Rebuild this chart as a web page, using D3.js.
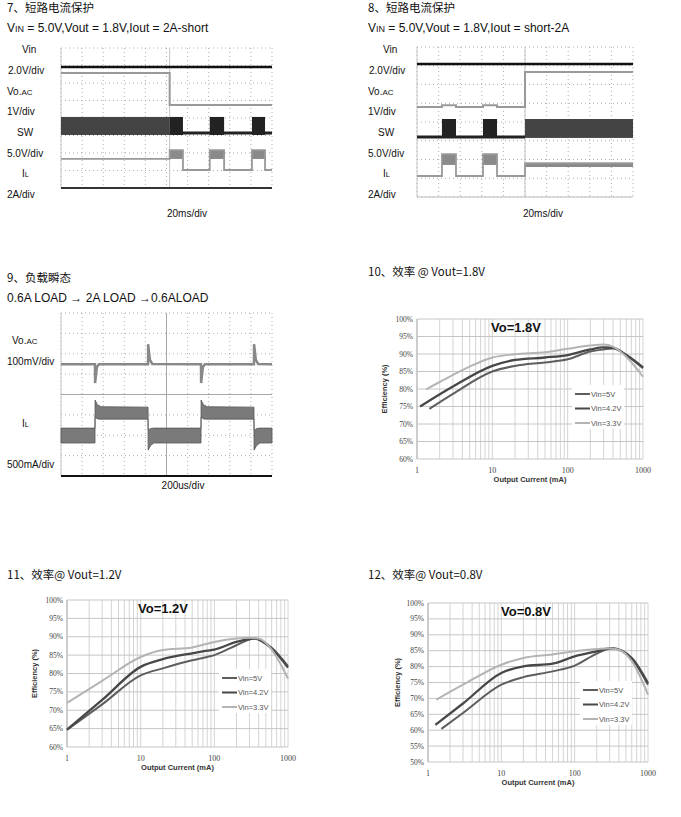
<!DOCTYPE html>
<meta charset="utf-8">
<style>
body { margin: 0; background: #fff; }
text { font-family: "Liberation Sans", Arial, "Noto Sans CJK SC", sans-serif; fill: #111; }
</style>
<body>
<script src="https://cdn.jsdelivr.net/npm/d3@7"></script>

<script>

var width = 681, height = 817;

// ---- scope 7 : Iout 2A -> short, 20ms/div (levels in divisions from bottom)
var s7Vin = [[0, 6.91], [200, 6.91]];
var s7Vo  = [[0, 6.57], [103, 6.57], [103, 4.74], [200, 4.74]];
var s7SwOn = [[0, 103, 3.03, 4.06]];
var s7Sw  = [[103, 115.6, 3.03, 4.06], [141, 154.6, 3.03, 4.06], [181, 193.4, 3.03, 4.06]];
var s7SwBase = [[103, 3.14], [200, 3.14]];
var s7IL  = [[0, 1.66], [103, 1.66], [103, 2.17], [115.6, 2.17], [115.6, 1.03], [141, 1.03], [141, 2.17],
             [154.6, 2.17], [154.6, 1.03], [181, 1.03], [181, 2.17], [193.4, 2.17], [193.4, 1.03], [200, 1.03]];
var s7ILPulse = [[103, 115.6, 1.66, 2.17], [141, 154.6, 1.66, 2.17], [181, 193.4, 1.66, 2.17]];

// ---- scope 8 : Iout short -> 2A
var s8Vin = [[0, 7.09], [200, 7.09]];
var s8Vo  = [[0, 4.8], [23.1, 4.8], [23.1, 4.9], [36.1, 4.9], [36.1, 4.8], [61.1, 4.8], [61.1, 4.9],
             [74.1, 4.9], [74.1, 4.8], [100, 4.8], [100, 6.67], [200, 6.67]];
var s8Sw  = [[23.1, 36.1, 3.15, 4.16], [61.1, 74.1, 3.15, 4.16]];
var s8SwOn = [[100, 200, 3.15, 4.16]];
var s8SwBase = [[0, 3.2], [100, 3.2]];
var s8IL  = [[0, 1.12], [23.1, 1.12], [23.1, 2.29], [36.1, 2.29], [36.1, 1.12], [61.1, 1.12], [61.1, 2.29],
             [74.1, 2.29], [74.1, 1.12], [100, 1.12], [100, 1.81], [200, 1.81]];
var s8ILPulse = [[23.1, 36.1, 1.71, 2.29], [61.1, 74.1, 1.71, 2.29], [100, 200, 1.6, 1.81]];

// ---- scope 9 : load transient, 200us/div
var s9Vo = [[0, 5.49], [322, 5.49], [323, 4.56], [340, 5.35], [360, 5.49], [825, 5.49], [826, 6.47], [843, 5.7], [865, 5.5],
            [1327, 5.49], [1328, 4.56], [1345, 5.35], [1365, 5.49], [1829, 5.49], [1830, 6.47], [1847, 5.7], [1869, 5.5], [2000, 5.49]];
var s9IL = [[0, 1.62, 2.35], [322, 1.62, 2.35], [323, 2.9, 3.73], [345, 2.8, 3.5], [380, 2.79, 3.4], [825, 2.79, 3.38],
            [826, 1.27, 2.25], [850, 1.5, 2.33], [880, 1.62, 2.35], [1327, 1.62, 2.35], [1328, 2.9, 3.73], [1350, 2.8, 3.5],
            [1385, 2.79, 3.4], [1829, 2.79, 3.38], [1830, 1.27, 2.25], [1855, 1.5, 2.33], [1885, 1.62, 2.35], [2000, 1.62, 2.35]];

// ---- efficiency curves [Iout mA, efficiency %]
var vinNames = ["Vin=5V", "Vin=4.2V", "Vin=3.3V"];
var e18_5  = [[1.46, 74.3], [3, 78.6], [10, 85], [20, 86.6], [50, 87.6], [100, 88.5], [200, 90.7], [300, 91.3], [400, 91.6], [600, 89.7], [1000, 85.9]];
var e18_42 = [[1.1, 75], [3, 80.7], [10, 86.6], [20, 88.3], [50, 89], [100, 89.7], [200, 91.3], [300, 91.9], [400, 91.8], [600, 89.7], [1000, 86.2]];
var e18_33 = [[1.32, 79.9], [2, 82], [5, 86.4], [10, 89], [20, 89.9], [50, 90.5], [100, 91.5], [200, 92.4], [300, 92.7], [400, 92.1], [600, 89.2], [1000, 83.5]];

var e12_5  = [[1, 64.7], [3, 71.6], [10, 79.5], [20, 81.4], [50, 83.6], [80, 84.5], [100, 85], [200, 87.7], [350, 89.5], [600, 87], [1000, 82]];
var e12_42 = [[1, 64.7], [3, 72.8], [10, 81.8], [20, 83.9], [50, 85.5], [80, 86.2], [100, 86.5], [200, 88.6], [350, 89.5], [600, 86.8], [1000, 81.6]];
var e12_33 = [[1, 72], [3, 78], [10, 84.5], [20, 86.4], [50, 87.1], [100, 88.6], [200, 89.5], [300, 89.7], [400, 89.5], [600, 86.5], [1000, 78.6]];

var e08_5  = [[1.52, 60.4], [3, 65.4], [10, 74.3], [20, 76.7], [50, 78.5], [100, 80.3], [200, 84.1], [320, 85.8], [600, 82.4], [1000, 74.3]];
var e08_42 = [[1.26, 61.7], [3, 68.4], [10, 78], [20, 80.1], [50, 80.9], [100, 83.2], [200, 84.8], [320, 85.8], [600, 82.7], [1000, 74.8]];
var e08_33 = [[1.3, 69.6], [3, 74.3], [10, 80.6], [20, 82.7], [50, 83.8], [100, 84.8], [200, 85.5], [300, 85.8], [400, 85.3], [600, 81.7], [1000, 71.2]];

var xTickLabels = [1, 10, 100, 1000];
var vinColors = ["#5e5e5e", "#474747", "#b4b4b4"];

var svg = d3.select("body").append("svg")
            .attr("width", width)
            .attr("height", height);

// simple text helper, parts = [[str, size], ...]
function label(x, y, parts, size, anchor, extra) {
  var t = svg.append("text")
     .attr("x", x).attr("y", y)
     .attr("font-size", size)
     .attr("text-anchor", anchor || "start");
  if (extra) extra(t);
  parts.forEach(function(p){
    t.append("tspan").attr("font-size", p[1] || size).text(p[0]);
  });
  return t;
}

//*************** scope panel
function scope(o) {
  var g = svg.append("g");
  var x = d3.scaleLinear().domain([0, o.tMax]).range([o.x0, o.x1]);
  var y = d3.scaleLinear().domain([0, 8]).range([o.y1, o.y0]);

  g.selectAll("line.vg").data(d3.range(0, 11)).enter().append("line")
   .attr("x1", function(d){return x(d * o.tMax / 10);})
   .attr("x2", function(d){return x(d * o.tMax / 10);})
   .attr("y1", o.y0).attr("y2", o.y1)
   .attr("stroke", "#9a9a9a").attr("stroke-width", 0.8)
   .attr("stroke-dasharray", "1,3");
  g.selectAll("line.hg").data(d3.range(0, 9)).enter().append("line")
   .attr("y1", function(d){return y(d);})
   .attr("y2", function(d){return y(d);})
   .attr("x1", o.x0).attr("x2", o.x1)
   .attr("stroke", "#9a9a9a").attr("stroke-width", 0.8)
   .attr("stroke-dasharray", "1,3");

  // left edge + trigger line
  g.append("line").attr("x1", o.x0).attr("x2", o.x0).attr("y1", o.y0).attr("y2", o.y1)
   .attr("stroke", "#c8c8c8").attr("stroke-width", 1);
  if (o.trig != null)
    g.append("line").attr("x1", x(o.trig)).attr("x2", x(o.trig)).attr("y1", o.y0).attr("y2", o.y1)
     .attr("stroke", "#c4c4c4").attr("stroke-width", 1);
  if (o.cross) {
    g.append("line").attr("x1", x(o.tMax / 2)).attr("x2", x(o.tMax / 2)).attr("y1", o.y0).attr("y2", o.y1)
     .attr("stroke", "#a8a8a8").attr("stroke-width", 1);
    g.append("line").attr("x1", o.x0).attr("x2", o.x1).attr("y1", y(4)).attr("y2", y(4))
     .attr("stroke", "#a8a8a8").attr("stroke-width", 1);
  }
  g.append("line").attr("x1", o.x0).attr("x2", o.x1).attr("y1", o.y1).attr("y2", o.y1)
   .attr("stroke", o.bottomColor).attr("stroke-width", o.bottomWidth);

  var line = d3.line().x(function(d){return x(d[0]);}).y(function(d){return y(d[1]);});
  var area = d3.area().x(function(d){return x(d[0]);})
               .y0(function(d){return y(d[1]);}).y1(function(d){return y(d[2]);});

  (o.areas || []).forEach(function(a){
    g.append("path").datum(a.data).attr("d", area)
     .attr("fill", a.color).attr("stroke", a.stroke || "none").attr("stroke-width", 0.8);
  });
  (o.bands || []).forEach(function(b){
    g.selectAll(null).data(b.data).enter().append("rect")
     .attr("x", function(d){return x(d[0]);})
     .attr("width", function(d){return x(d[1]) - x(d[0]);})
     .attr("y", function(d){return y(d[3]);})
     .attr("height", function(d){return y(d[2]) - y(d[3]);})
     .attr("fill", b.color);
  });
  (o.lines || []).forEach(function(l){
    g.append("path").datum(l.data).attr("d", line)
     .attr("fill", "none").attr("stroke", l.color).attr("stroke-width", l.width);
  });
}

//*************** efficiency panel
function effChart(o) {
  var g = svg.append("g");
  var x = d3.scaleLog().domain([1, 1000]).range([o.x0, o.x1]);
  var y = d3.scaleLinear().domain([o.yMin, 100]).range([o.y1, o.y0]);
  var yTicks = d3.range(o.yMin, 100.1, 5);

  g.selectAll("line.vg").data(x.ticks()).enter().append("line")
   .attr("x1", function(d){return x(d);}).attr("x2", function(d){return x(d);})
   .attr("y1", o.y0).attr("y2", o.y1)
   .attr("stroke", "#d4d4d4").attr("stroke-width", 1);
  g.selectAll("line.hg").data(yTicks).enter().append("line")
   .attr("x1", o.x0).attr("x2", o.x1)
   .attr("y1", function(d){return y(d);}).attr("y2", function(d){return y(d);})
   .attr("stroke", "#c6c6c6").attr("stroke-width", 1);
  g.append("line").attr("x1", o.x0).attr("x2", o.x0).attr("y1", o.y0).attr("y2", o.y1)
   .attr("stroke", "#b0b0b0").attr("stroke-width", 1);

  g.selectAll("text.yt").data(yTicks).enter().append("text")
   .attr("x", o.x0 - 4).attr("y", function(d){return y(d) + 2.5;})
   .attr("text-anchor", "end")
   .attr("font-size", 7.5)
   .style("font-family", "'Liberation Serif', 'DejaVu Serif', serif")
   .style("fill", "#444")
   .text(function(d){return d + "%";});
  g.selectAll("text.xt").data(xTickLabels).enter().append("text")
   .attr("x", function(d){return x(d);}).attr("y", o.y1 + 14)
   .attr("text-anchor", "middle")
   .attr("font-size", 8)
   .style("font-family", "'Liberation Serif', 'DejaVu Serif', serif")
   .style("fill", "#444")
   .text(function(d){return d;});

  g.append("text")
   .attr("x", (o.x0 + o.x1) / 2).attr("y", o.y1 + 23)
   .attr("text-anchor", "middle").attr("font-size", 7.5).attr("font-weight", "bold")
   .style("fill", "#333")
   .text("Output Current (mA)");
  g.append("text")
   .attr("transform", "translate(" + o.ylx + "," + ((o.y0 + o.y1) / 2) + ") rotate(-90)")
   .attr("text-anchor", "middle").attr("font-size", 7.5).attr("font-weight", "bold")
   .style("fill", "#333")
   .text("Efficiency (%)");
  g.append("text")
   .attr("x", o.titleX).attr("y", o.y0 + 13)
   .attr("text-anchor", "middle").attr("font-size", 13).attr("font-weight", "bold")
   .style("fill", "#111")
   .text(o.name);

  // legend box
  g.append("rect").attr("x", o.lx - 3).attr("y", o.ly - 9).attr("width", 52).attr("height", 44)
   .attr("fill", "#fff");
  var line = d3.line().curve(d3.curveMonotoneX)
               .x(function(d){return x(d[0]);}).y(function(d){return y(d[1]);});
  o.series.forEach(function(s, i){
    g.append("path").datum(s).attr("d", line)
     .attr("fill", "none").attr("stroke", vinColors[i]).attr("stroke-width", i == 1 ? 2.3 : 2);
    var ly = o.ly + i * 14.5;
    g.append("line").attr("x1", o.lx).attr("x2", o.lx + 15).attr("y1", ly).attr("y2", ly)
     .attr("stroke", vinColors[i]).attr("stroke-width", 2);
    g.append("text").attr("x", o.lx + 16).attr("y", ly + 2.5)
     .attr("font-size", 7.5).style("fill", "#555").text(vinNames[i]);
  });
}

// ---------------- headings
var cjk = function(t){ t.style("font-family", "'Noto Sans CJK SC', 'Liberation Sans', sans-serif"); };
label(7, 12, [["7、短路电流保护"]], 11.5, "start", cjk);
label(7, 32, [["V"], ["IN", 9], [" = 5.0V,Vout = 1.8V,Iout = 2A-short"]], 12);
label(368, 12, [["8、短路电流保护"]], 11.5, "start", cjk);
label(368, 32, [["V"], ["IN", 9], [" = 5.0V,Vout = 1.8V,Iout = short-2A"]], 12);
label(7, 282, [["9、负载瞬态"]], 11.5, "start", cjk);
label(7, 302, [["0.6A LOAD \u2192  2A LOAD \u21920.6ALOAD"]], 12);
label(368, 276, [["10、效率 @ Vout=1.8V"]], 11.5, "start", cjk);
label(7, 579, [["11、效率@ Vout=1.2V"]], 11.5, "start", cjk);
label(368, 579, [["12、效率@ Vout=0.8V"]], 11.5, "start", cjk);

// scope channel labels
[[0, 0], [361, 1]].forEach(function(p){
  var dx = p[0];
  label(22 + dx, 53, [["Vin"]], 10);
  label(8 + dx, 74, [["2.0V/div"]], 10);
  label(7 + dx, 95, [["Vo."], ["AC", 8]], 10);
  label(7 + dx, 115, [["1V/div"]], 10);
  label(17 + dx, 136, [["SW"]], 10);
  label(7 + dx, 157, [["5.0V/div"]], 10);
  label(22 + dx, 177, [["I"], ["L", 7.5]], 10);
  label(7 + dx, 198, [["2A/div"]], 10);
});
label(187, 217, [["20ms/div"]], 10, "middle");
label(543, 217, [["20ms/div"]], 10, "middle");
label(12, 344, [["Vo."], ["AC", 8]], 10);
label(7, 365, [["100mV/div"]], 10);
label(22, 427, [["I"], ["L", 7.5]], 10);
label(7, 468, [["500mA/div"]], 10);
label(183, 489, [["200us/div"]], 10, "middle");

// ---------------- scopes
scope({ x0: 61, x1: 272, y0: 48, y1: 188, tMax: 200, trig: 103,
        bottomColor: "#333", bottomWidth: 2,
        bands: [{ data: s7SwOn, color: "#444" }, { data: s7Sw, color: "#222" }, { data: s7ILPulse, color: "#8a8a8a" }],
        lines: [{ data: s7Vin, color: "#111", width: 2.5 },
                { data: s7Vo, color: "#9a9a9a", width: 2 },
                { data: s7SwBase, color: "#222", width: 3 },
                { data: s7IL, color: "#999", width: 1.8 }] });

scope({ x0: 417, x1: 633, y0: 47, y1: 197, tMax: 200, trig: 100,
        bottomColor: "#bbb", bottomWidth: 1,
        bands: [{ data: s8SwOn, color: "#444" }, { data: s8Sw, color: "#222" }, { data: s8ILPulse, color: "#8a8a8a" }],
        lines: [{ data: s8Vin, color: "#111", width: 2.5 },
                { data: s8Vo, color: "#9a9a9a", width: 2 },
                { data: s8SwBase, color: "#222", width: 3 },
                { data: s8IL, color: "#999", width: 1.8 }] });

scope({ x0: 61, x1: 272, y0: 313, y1: 476, tMax: 2000, cross: true,
        bottomColor: "#111", bottomWidth: 2,
        areas: [{ data: s9IL, color: "#7a7a7a", stroke: "#555" }],
        lines: [{ data: s9Vo, color: "#888", width: 2.5 }] });

// ---------------- efficiency
effChart({ x0: 417, x1: 643, y0: 319, y1: 459, yMin: 60, ylx: 387, titleX: 516,
           name: "Vo=1.8V", lx: 575, ly: 394, series: [e18_5, e18_42, e18_33] });
effChart({ x0: 67, x1: 288, y0: 600, y1: 747, yMin: 60, ylx: 37, titleX: 163,
           name: "Vo=1.2V", lx: 222, ly: 678, series: [e12_5, e12_42, e12_33] });
effChart({ x0: 428, x1: 648, y0: 603, y1: 762, yMin: 50, ylx: 400, titleX: 526,
           name: "Vo=0.8V", lx: 583, ly: 690, series: [e08_5, e08_42, e08_33] });

</script>
</body>
